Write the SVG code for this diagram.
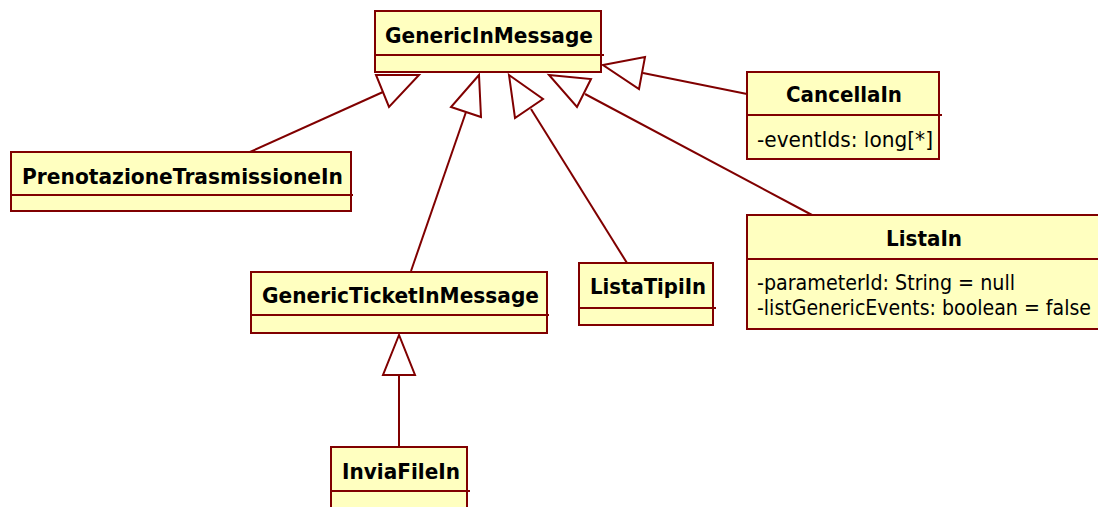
<svg xmlns="http://www.w3.org/2000/svg" width="1098" height="507" viewBox="0 0 1098 507">
<style>
.box{fill:#FFFFC0;stroke:#800000;stroke-width:2}
.div{stroke:#800000;stroke-width:2;fill:none}
.t{font-family:"DejaVu Sans",Verdana,sans-serif;font-weight:bold;font-size:22px;fill:#000}
.a{font-family:"DejaVu Sans",Verdana,sans-serif;font-size:21px;fill:#000}
.ln{stroke:#800000;stroke-width:2;fill:none}
.tri{stroke:#800000;stroke-width:2;fill:#fff;stroke-linejoin:miter}
</style>
<rect width="1098" height="507" fill="#fff"/>
<g id="connectors">
<line class="ln" x1="250" y1="152" x2="383" y2="92"/>
<polygon class="tri" points="376,75 419,75 389,107"/>
<line class="ln" x1="411" y1="271" x2="466" y2="112"/>
<polygon class="tri" points="479,75 451,107 481,117"/>
<line class="ln" x1="627" y1="263" x2="531" y2="109"/>
<polygon class="tri" points="509,75 543,99 515,118"/>
<line class="ln" x1="812" y1="215" x2="585" y2="94"/>
<polygon class="tri" points="549,75 591,79 577,107"/>
<line class="ln" x1="747" y1="94" x2="643" y2="73"/>
<polygon class="tri" points="603,65 645,57 639,89"/>
<line class="ln" x1="399" y1="447" x2="399" y2="375"/>
<polygon class="tri" points="399,335 383,375 415,375"/>
</g>
<g id="GenericInMessage">
<rect class="box" x="375" y="11" width="226" height="61"/>
<line class="div" x1="375" y1="55" x2="604" y2="55"/>
<text class="t" x="385" y="43" textLength="208" lengthAdjust="spacingAndGlyphs">GenericInMessage</text>
</g>
<g id="PrenotazioneTrasmissioneIn">
<rect class="box" x="11" y="152" width="340" height="59"/>
<line class="div" x1="11" y1="195" x2="353" y2="195"/>
<text class="t" x="22" y="184" textLength="321" lengthAdjust="spacingAndGlyphs">PrenotazioneTrasmissioneIn</text>
</g>
<g id="CancellaIn">
<rect class="box" x="747" y="72" width="192" height="87"/>
<line class="div" x1="747" y1="115" x2="942" y2="115"/>
<text class="t" x="786" y="102" textLength="116" lengthAdjust="spacingAndGlyphs">CancellaIn</text>
<text class="a" x="757" y="147" textLength="176" lengthAdjust="spacingAndGlyphs">-eventIds: long[*]</text>
</g>
<g id="ListaIn">
<rect class="box" x="747" y="215" width="370" height="114"/>
<line class="div" x1="747" y1="259" x2="1117" y2="259"/>
<text class="t" x="886" y="246" textLength="76" lengthAdjust="spacingAndGlyphs">ListaIn</text>
<text class="a" x="757" y="290" textLength="258" lengthAdjust="spacingAndGlyphs">-parameterId: String = null</text>
<text class="a" x="757" y="315" textLength="334" lengthAdjust="spacingAndGlyphs">-listGenericEvents: boolean = false</text>
</g>
<g id="GenericTicketInMessage">
<rect class="box" x="251" y="272" width="296" height="61"/>
<line class="div" x1="251" y1="315" x2="549" y2="315"/>
<text class="t" x="262" y="303" textLength="277" lengthAdjust="spacingAndGlyphs">GenericTicketInMessage</text>
</g>
<g id="ListaTipiIn">
<rect class="box" x="579" y="263" width="134" height="62"/>
<line class="div" x1="579" y1="308" x2="716" y2="308"/>
<text class="t" x="590" y="294" textLength="116" lengthAdjust="spacingAndGlyphs">ListaTipiIn</text>
</g>
<g id="InviaFileIn">
<rect class="box" x="331" y="447" width="136" height="80"/>
<line class="div" x1="331" y1="491" x2="470" y2="491"/>
<text class="t" x="342" y="479" textLength="118" lengthAdjust="spacingAndGlyphs">InviaFileIn</text>
</g>
</svg>
